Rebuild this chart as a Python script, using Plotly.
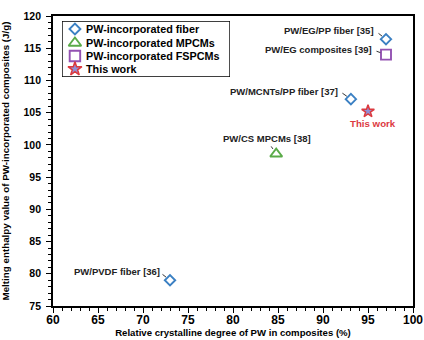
import plotly.graph_objects as go

# Relative crystallinity (%) and melting enthalpy (J/g) for each group
fiber_x = [97.0, 93.1, 73.0]
fiber_y = [116.4, 107.1, 79.0]
fiber_labels = ["PW/EG/PP fiber [35]", "PW/MCNTs/PP fiber [37]", "PW/PVDF fiber [36]"]

mpcm_x = [84.8]
mpcm_y = [98.6]
mpcm_labels = ["PW/CS MPCMs [38]"]

fspcm_x = [97.0]
fspcm_y = [114.0]
fspcm_labels = ["PW/EG composites [39]"]

work_x = [95.0]
work_y = [105.2]
work_labels = ["This work"]

legend_names = ["PW-incorporated fiber", "PW-incorporated MPCMs",
                "PW-incorporated FSPCMs", "This work"]

FONT = "Liberation Sans, Arial, Helvetica, sans-serif"
BLUE, GREEN, PURPLE, RED, STARFILL = "#3b80c3", "#5aab48", "#9352b2", "#dc3a3f", "#8f90d8"

styles = [
    dict(symbol="diamond-open", size=8, color=BLUE, line=dict(width=1.9, color=BLUE)),
    dict(symbol="triangle-up-open", size=10.5, color=GREEN, line=dict(width=1.9, color=GREEN)),
    dict(symbol="square-open", size=10, color=PURPLE, line=dict(width=1.9, color=PURPLE)),
    dict(symbol="star", size=9.5, color=STARFILL, line=dict(width=1.5, color=RED)),
]

fig = go.Figure()

for xs, ys, name, st in zip([fiber_x, mpcm_x, fspcm_x, work_x],
                            [fiber_y, mpcm_y, fspcm_y, work_y],
                            legend_names, styles):
    fig.add_trace(go.Scatter(x=xs, y=ys, mode="markers", name=name,
                             marker=st, showlegend=False))

# ---- point labels with short leader marks ----
label_font = dict(family=FONT, size=9.5, color="#222222", weight="bold")


def add_label(x, y, text, xshift, yshift, lead_ax, lead_ay, anchor="right", standoff=5):
    fig.add_annotation(x=x, y=y, text=text, showarrow=False, xanchor=anchor,
                       yanchor="middle", xshift=xshift, yshift=yshift, font=label_font)
    fig.add_annotation(x=x, y=y, text="", showarrow=True, arrowhead=0, arrowwidth=1,
                       arrowcolor="#333333", ax=lead_ax, ay=lead_ay, standoff=standoff)


add_label(fiber_x[0], fiber_y[0], fiber_labels[0], -10, 9, -9, -7)
add_label(fiber_x[1], fiber_y[1], fiber_labels[1], -11, 8, -10, -7)
add_label(fiber_x[2], fiber_y[2], fiber_labels[2], -8, 9, -9, -7)
add_label(fspcm_x[0], fspcm_y[0], fspcm_labels[0], -12, 5, -11, -4, standoff=6)
add_label(mpcm_x[0], mpcm_y[0], mpcm_labels[0], -9, 15, -6, -9, anchor="center", standoff=6)

fig.add_annotation(x=work_x[0], y=work_y[0], text=work_labels[0], showarrow=False,
                   xshift=5, yshift=-12,
                   font=dict(family=FONT, size=9.7, color=RED, weight="bold"))

# ---- legend box, drawn on its own hidden axes ----
leg_rows = [0.857, 0.607, 0.375, 0.143]
for name, st, ry in zip(legend_names, styles, leg_rows):
    m = dict(st)
    m["size"] = st["size"] * (1.05 if st["symbol"] != "star" else 1.1)
    fig.add_trace(go.Scatter(x=[0.077], y=[ry], mode="markers", marker=m,
                             xaxis="x2", yaxis="y2", showlegend=False, hoverinfo="skip"))
    fig.add_annotation(x=0.131, y=ry, xref="x2", yref="y2", text=name, showarrow=False,
                       xanchor="left", yanchor="middle",
                       font=dict(family=FONT, size=10.8, color="black", weight="bold"))
fig.add_shape(type="rect", xref="x2", yref="y2", x0=0, x1=1, y0=0, y1=1,
              line=dict(color="black", width=1.4), fillcolor="rgba(0,0,0,0)")

axis_common = dict(
    showline=True, mirror=True, linecolor="black", linewidth=1.8,
    ticks="outside", ticklen=5, tickwidth=1.4, tickcolor="black",
    showgrid=False, zeroline=False, automargin=False,
)
minor = dict(ticks="outside", ticklen=3, tickwidth=1, tickcolor="black", dtick=1)

xaxis = dict(
    range=[60, 100], dtick=5, tick0=60, minor=minor, ticklabelstandoff=-3,
    tickfont=dict(family=FONT, size=12, color="black", weight="bold"),
    title=dict(text="Relative crystalline degree of PW in composites (%)", standoff=3,
               font=dict(family=FONT, size=9.6, color="black", weight="bold")),
    **axis_common,
)
yaxis = dict(
    range=[75, 120], dtick=5, tick0=75, minor=minor, ticklabelstandoff=3,
    tickfont=dict(family=FONT, size=10.5, color="black", weight="bold"),
    title=dict(text="Melting enthalpy value of PW-incorporated composites (J/g)", standoff=16,
               font=dict(family=FONT, size=9.8, color="black", weight="bold")),
    **axis_common,
)

fig.update_layout(
    width=424, height=340,
    margin=dict(l=53, r=11, t=16, b=34),
    paper_bgcolor="white", plot_bgcolor="white",
    showlegend=False,
    xaxis=xaxis, yaxis=yaxis,
    xaxis2=dict(domain=[0.025, 0.4917], range=[0, 1], anchor="y2", visible=False,
                fixedrange=True),
    yaxis2=dict(domain=[0.7897, 0.9828], range=[0, 1], anchor="x2", visible=False,
                fixedrange=True),
)

fig.write_html("out.html")
